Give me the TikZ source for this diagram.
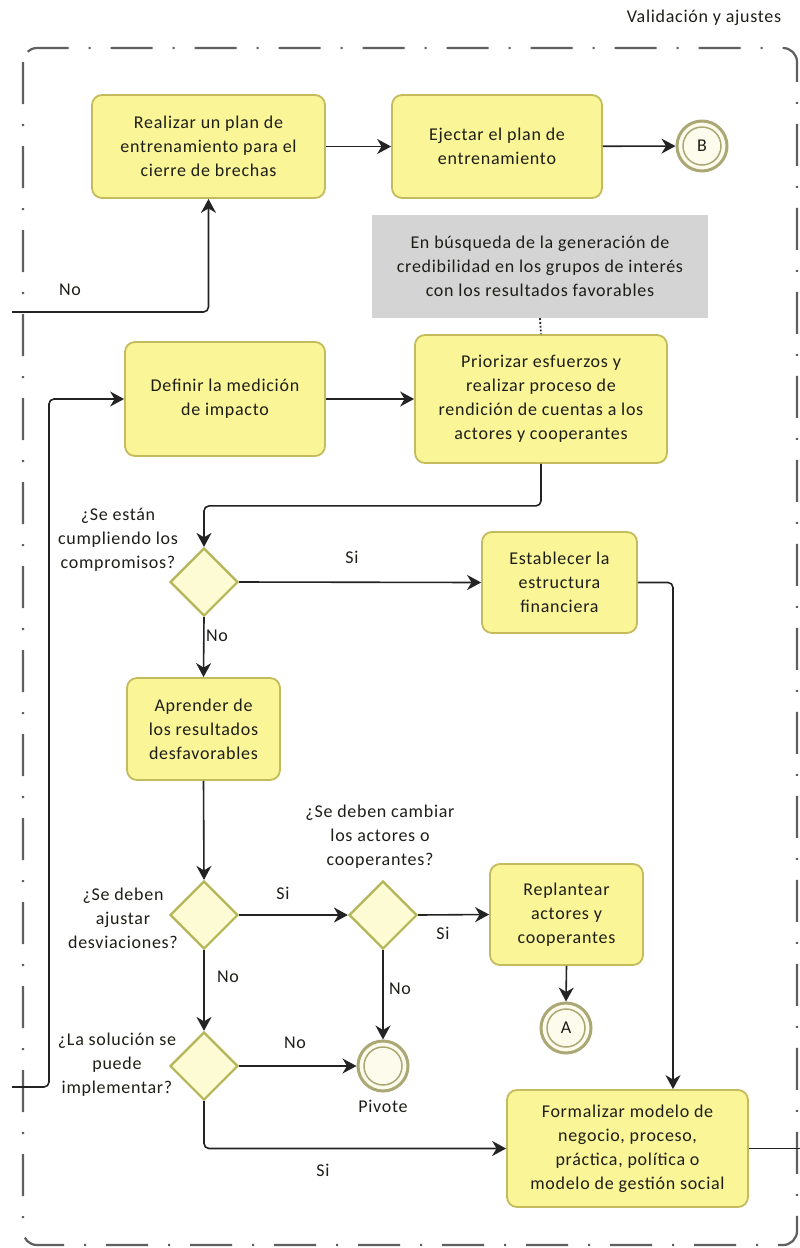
\documentclass[tikz,border=0pt]{standalone}
\usepackage{fontspec}
\setmainfont{Carlito}[LetterSpace=4]
\usetikzlibrary{arrows.meta,shapes.geometric,calc}

\definecolor{taskfill}{RGB}{250,245,150}
\definecolor{taskline}{RGB}{196,188,92}
\definecolor{gwfill}{RGB}{253,251,212}
\definecolor{gwline}{RGB}{180,182,88}
\definecolor{evline}{RGB}{172,168,118}
\definecolor{evfill}{RGB}{252,251,236}
\definecolor{flowcol}{RGB}{35,35,35}
\definecolor{lanecol}{RGB}{95,95,95}
\definecolor{notefill}{RGB}{212,212,212}
\definecolor{txt}{RGB}{30,30,25}

\begin{document}
\begin{tikzpicture}[x=1pt,y=-1pt,
  every node/.style={font=\fontsize{18}{24}\selectfont, text=txt},
  task/.style={draw=taskline, fill=taskfill, line width=1.8pt,
    rounded corners=10pt, align=center, inner sep=0pt},
  gateway/.style={diamond, draw=gwline, fill=gwfill, line width=2.2pt,
    minimum width=68pt, minimum height=68pt, inner sep=0pt},
  endev/.style={circle, draw=evline, fill=evfill, line width=3pt,
    minimum size=50pt, inner sep=0pt,
    path picture={\draw[evline, line width=1.5pt]
      (path picture bounding box.center) circle (19pt);}},
  note/.style={fill=notefill, align=center, inner sep=0pt},
  flow/.style={draw=flowcol, line width=1.6pt, rounded corners=5pt,
    -{Stealth[length=14pt,width=15pt,inset=4.5pt]}},
  plainflow/.style={draw=flowcol, line width=1.6pt, rounded corners=5pt},
  assoc/.style={draw=flowcol, line width=1.8pt, dotted},
  lbl/.style={align=center, inner sep=0pt}
]
\fill[white] (0,0) rectangle (800,1248);
\useasboundingbox (0,0) rectangle (800,1248);

% lane
\draw[lanecol, line width=2.2pt, rounded corners=14pt,
  dash pattern=on 42pt off 20pt on 2pt off 20pt] (23,48) rectangle (797,1245);
\node[lbl] (lane) at (704,18) {Validación y ajustes};

% tasks
\node[task, minimum width=233pt, minimum height=103pt] (realizar) at (208.5,146.5)
  {Realizar un plan de\\entrenamiento para el\\cierre de brechas};
\node[task, minimum width=210pt, minimum height=103pt] (ejecutar) at (497,146.5)
  {Ejectar el plan de\\entrenamiento};
\node[endev] (B) at (702,146) {B};

\node[note, minimum width=336pt, minimum height=103pt] (nota) at (540,266.5)
  {En búsqueda de la generación de\\credibilidad en los grupos de interés\\con los resultados favorables};

\node[task, minimum width=200pt, minimum height=114pt] (definir) at (225,399)
  {Definir la medición\\de impacto};
\node[task, minimum width=252pt, minimum height=128pt] (priorizar) at (541,399)
  {Priorizar esfuerzos y\\realizar proceso de\\rendición de cuentas a los\\actores y cooperantes};

\node[gateway] (g1) at (204,582) {};
\node[lbl] (q1) at (118,540) {¿Se están\\cumpliendo los\\compromisos?};
\node[task, minimum width=155pt, minimum height=101pt] (establecer) at (559.5,582.5)
  {Establecer la\\estructura\\financiera};

\node[task, minimum width=153pt, minimum height=102pt] (aprender) at (203.5,729)
  {Aprender de\\los resultados\\desfavorables};

\node[gateway] (g2) at (204,915) {};
\node[lbl] (q2) at (123,918) {¿Se deben\\ajustar\\desviaciones?};
\node[gateway] (g3) at (383,915) {};
\node[lbl] (q3) at (380,837) {¿Se deben cambiar\\los actores o\\cooperantes?};
\node[task, minimum width=153pt, minimum height=101pt] (replantear) at (566.5,914.5)
  {Replantear\\actores y\\cooperantes};
\node[endev] (A) at (566,1028) {A};

\node[gateway] (g4) at (204,1066) {};
\node[lbl] (q4) at (117,1065) {¿La solución se\\puede\\implementar?};
\node[endev] (pivote) at (383,1066) {};
\node[lbl] (pivlbl) at (383,1106) {Pivote};

\node[task, minimum width=241pt, minimum height=117pt] (formalizar) at (627.5,1148.5)
  {Formalizar modelo de\\negocio, proceso,\\práctica, política o\\modelo de gestión social};

% free ends of flows crossing the lane border
\coordinate (inNo) at (12,312);
\coordinate (inLoop) at (12,1087);
\coordinate (loopBend) at (49,1087);
\coordinate (outRight) at (800,1148.5);

% flows
\draw[flow] (realizar) -- (ejecutar);
\draw[flow] (ejecutar) -- (B);
\draw[flow] (inNo) -| (realizar.south);
\node[lbl] (lNo0) at (70,290) {No};

\draw[flow] (inLoop) -- (loopBend) |- (definir.west);
\draw[flow] (definir) -- (priorizar);
\draw[assoc] (nota.south) -- (priorizar.north);

\draw[flow] (priorizar.south) -- ++(0,42) -| (g1.north);
\draw[flow] (g1.east) -- (establecer.west);
\node[lbl] (lSi1) at (352,557) {Si};
\draw[flow] (establecer.east) -| ([xshift=45.5pt]formalizar.north);

\draw[flow] (g1.south) -- (aprender.north);
\node[lbl] (lNo1) at (217,636) {No};
\draw[flow] (aprender.south) -- (g2.north);

\draw[flow] (g2.east) -- (g3.west);
\node[lbl] (lSi2) at (283,893) {Si};
\draw[flow] (g3.east) -- (replantear.west);
\node[lbl] (lSi3) at (443,933) {Si};
\draw[flow] (replantear.south) -- (A.north);

\draw[flow] (g3.south) -- (pivote.north);
\node[lbl] (lNo3) at (400,989) {No};
\draw[flow] (g2.south) -- (g4.north);
\node[lbl] (lNo2) at (228,977) {No};
\draw[flow] (g4.east) -- (pivote.west);
\node[lbl] (lNo4) at (295,1043) {No};
\draw[flow] (g4.south) |- (formalizar.west);
\node[lbl] (lSi4) at (323,1170) {Si};
\draw[plainflow] (formalizar.east) -- (outRight);
\end{tikzpicture}
\end{document}
